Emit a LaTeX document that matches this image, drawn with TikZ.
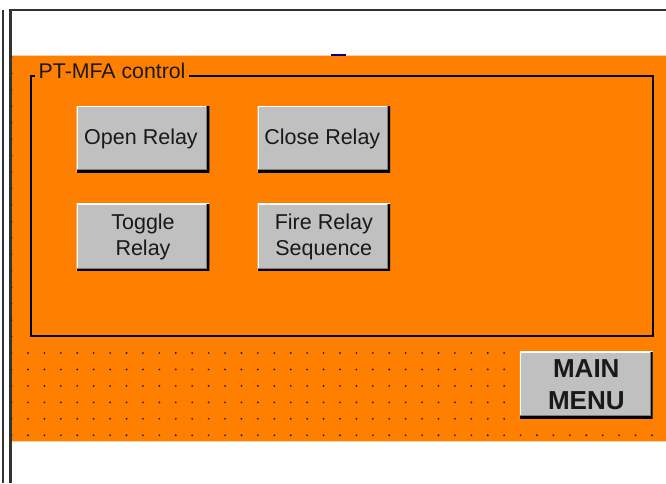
\documentclass[tikz,border=0pt]{standalone}
\usepackage{fontspec}
\setmainfont{Liberation Sans}
\definecolor{hmiorange}{RGB}{255,128,0}
\definecolor{btngray}{RGB}{192,192,192}
\definecolor{btndark}{RGB}{128,128,128}
\definecolor{framegray}{RGB}{50,50,50}
\definecolor{peach}{RGB}{255,205,160}
\definecolor{navymark}{RGB}{0,0,128}
\definecolor{txt}{RGB}{25,25,25}
\tikzset{
  hmibtn/.style={rectangle, fill=btngray, inner sep=0pt, outer sep=0pt, align=center,
    text=txt, font=\fontsize{21.5}{26}\selectfont,
    path picture={
      \draw[white, line width=2.4pt] (path picture bounding box.south west) -- (path picture bounding box.north west) -- (path picture bounding box.north east);
      \draw[btndark, line width=6pt] (path picture bounding box.south west) -- (path picture bounding box.south east) -- (path picture bounding box.north east);
      \draw[black, line width=4pt] (path picture bounding box.south west) -- (path picture bounding box.south east) -- (path picture bounding box.north east);
    }},
  hmidot/.style={fill=black!85},
  grouplbl/.style={fill=hmiorange, inner xsep=3.5pt, inner ysep=2pt, font=\fontsize{21.3}{25}\selectfont, text=txt}
}
\begin{document}
\begin{tikzpicture}[x=1pt,y=-1pt]
\useasboundingbox (0,0) rectangle (666,483);
\fill[white] (0,0) rectangle (666,483);
% orange panel
\fill[hmiorange] (11.5,56) rectangle (666,441.7);
\draw[peach, line width=1pt] (11.5,441.8) -- (666,441.8);
\draw[peach, line width=0.8pt] (11.5,55.6) -- (666,55.6);
% blue mark
\fill[navymark] (331,54) rectangle (346,56.2);
% dots
\foreach \j in {0,...,23} \fill[hmidot] ({11.6},{56.9+16.45*\j}) circle (1.05);
\foreach \j in {18,...,22} \foreach \i in {1,...,30} \fill[hmidot] ({11.58+16.42*\i},{56.9+16.45*\j}) circle (1.05);
\foreach \i in {1,...,39} \fill[hmidot] ({11.58+16.42*\i},{56.9+16.45*23}) circle (1.05);
% group box
\draw[black, line width=1.6pt] (30.7,76) rectangle (653,336);
\node[grouplbl, anchor=base west] (lbl) at (35,78.3) {PT-MFA control};
% buttons
\node[hmibtn, minimum width=132.6pt, minimum height=66.3pt] (open) at (143,139.2) {Open Relay\hspace*{4pt}};
\node[hmibtn, minimum width=132.4pt, minimum height=66.3pt] (close) at (323.8,139.2) {Close Relay\hspace*{3pt}};
\node[hmibtn, minimum width=132.6pt, minimum height=66.7pt] (toggle) at (143,237.3) {Toggle\\Relay};
\node[hmibtn, minimum width=132.4pt, minimum height=66.7pt] (fire) at (323.8,237.3) {Fire Relay\\Sequence};
\node[hmibtn, minimum width=132.7pt, minimum height=66.6pt, font=\fontsize{26}{32}\bfseries\selectfont] (main) at (586.3,385) {MAIN\\MENU};
% window frame lines
\draw[framegray, line width=2pt] (3,9.5) -- (3,483);
\draw[framegray, line width=2.6pt] (10.3,9.3) -- (10.3,483);
\draw[framegray, line width=2.2pt] (9,10.2) -- (666,10.2);
\end{tikzpicture}
\end{document}
